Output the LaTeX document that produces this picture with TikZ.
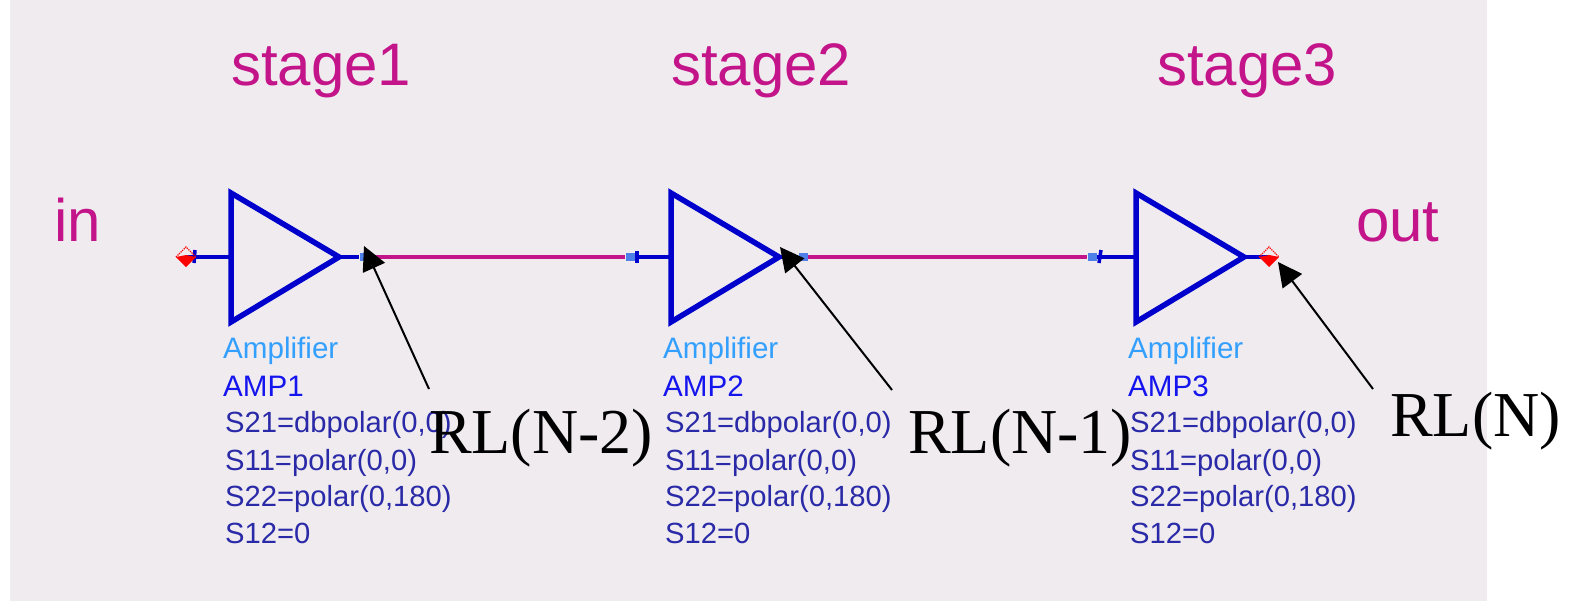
\documentclass[tikz,border=0pt]{standalone}
\usepackage{fontspec}
\setmainfont{Liberation Sans}
\newfontfamily\timesf{Liberation Serif}
\usetikzlibrary{arrows.meta}
\definecolor{panel}{HTML}{EFEBEF}
\definecolor{ampblue}{HTML}{0000CC}
\definecolor{wiremag}{HTML}{C4148A}
\definecolor{pinblue}{HTML}{4F7FE8}
\definecolor{typeblue}{HTML}{33A0FF}
\definecolor{nameblue}{HTML}{1414EE}
\definecolor{parblue}{HTML}{2A2AA8}
\tikzset{
  x=1pt,y=-1pt,
  amptri/.style={draw=ampblue,line width=5.5pt,miter limit=10,line join=miter},
  ampwire/.style={draw=ampblue,line width=4.5pt},
  magwire/.style={draw=wiremag,line width=4.5pt},
  pinbox/.style={fill=pinblue,draw=none,minimum width=9pt,minimum height=8pt,inner sep=0pt},
  stagetxt/.style={text=wiremag,font=\fontsize{60}{60}\selectfont,anchor=base west,inner sep=0pt},
  typetxt/.style={text=typeblue,font=\fontsize{29.6}{30}\selectfont,anchor=base west,inner sep=0pt},
  nametxt/.style={text=nameblue,font=\fontsize{29.6}{30}\selectfont,anchor=base west,inner sep=0pt},
  partxt/.style={text=parblue,font=\fontsize{29.2}{30}\selectfont,anchor=base west,inner sep=0pt},
  rltxt/.style={text=black,font=\timesf\fontsize{64}{64}\selectfont,anchor=base west,inner sep=0pt},
  callout/.style={draw=black,line width=2pt,-{Triangle[length=24pt,width=24pt]},shorten >=0pt},
}
\newcommand{\ampblock}[4]{% #1 id, #2 x offset, #3 name, #4 unused
  \coordinate (a#1top) at (231+#2,193);
  \coordinate (a#1bot) at (231+#2,322);
  \coordinate (a#1in) at (231+#2,257);
  \coordinate (a#1tip) at (339+#2,257);
  \draw[amptri] (a#1top) -- (a#1tip) -- (a#1bot) -- cycle;
  \node[typetxt] (ty#1) at (223+#2,358) {Amplifier};
  \node[nametxt] (na#1) at (223+#2,396) {#3};
  \node[partxt] (sa#1) at (225+#2,432) {S21=dbpolar(0,0)};
  \node[partxt] (sb#1) at (225+#2,470) {S11=polar(0,0)};
  \node[partxt] (sc#1) at (225+#2,506) {S22=polar(0,180)};
  \node[partxt] (sd#1) at (225+#2,543) {S12=0};
}
\begin{document}
\begin{tikzpicture}
\useasboundingbox (0,0) rectangle (1571,602);
\fill[white] (0,0) rectangle (1571,602);
\fill[panel] (10,0) rectangle (1487,601);

\node[stagetxt] (st1) at (231,85) {stage1};
\node[stagetxt] (st2) at (671,85) {stage2};
\node[stagetxt] (st3) at (1157,85) {stage3};
\node[stagetxt] (lin) at (54,241) {in};
\node[stagetxt] (lout) at (1356,241) {out};

% ports and pins
\coordinate (pin) at (186,257);
\coordinate (pout) at (1269,257);
\node[pinbox] (o1) at (364,257) {};
\node[pinbox] (i2) at (630,257) {};
\node[pinbox] (o2) at (803,257) {};
\node[pinbox] (i3) at (1092,257) {};

\draw[magwire] (o1.east) -- (i2.west);
\draw[magwire] (o2.east) -- (i3.west);

\ampblock{1}{0}{AMP1}{}
\ampblock{2}{440}{AMP2}{}
\ampblock{3}{905}{AMP3}{}

\draw[ampwire] (pin) -- (a1in);
\draw[ampwire] (a1tip) -- (o1.west);
\draw[ampwire] (i2.east) -- (a2in);
\draw[ampwire] (a2tip) -- (o2.west);
\draw[ampwire] (i3.east) -- (a3in);
\draw[ampwire] (a3tip) -- (pout);

% port ticks
\draw[draw=ampblue,line width=3.5pt] (195,250) -- (194,263);
\draw[draw=ampblue,line width=3.5pt] (637,251) -- (637,263);
\draw[draw=ampblue,line width=3.5pt] (1101,250) -- (1099,263);

% port diamonds
\foreach \p in {pin,pout}{
  \fill[red] ([xshift=-10pt]\p) -- ([yshift=-10pt]\p) -- ([xshift=10pt]\p) -- ([yshift=2pt]\p) -- cycle;
  \draw[red,line width=1.2pt,densely dotted] ([xshift=-10pt]\p) -- ([yshift=10pt]\p) -- ([xshift=10pt]\p);
}

\node[rltxt] (rl1) at (429,453) {RL(N-2)};
\node[rltxt] (rl2) at (908,453) {RL(N-1)};
\node[rltxt] (rl3) at (1390,436) {RL(N)};

\coordinate (c1) at (429,389);
\coordinate (c2) at (892,390);
\coordinate (c3) at (1373,389);
\coordinate (t1) at (364,246);
\coordinate (t2) at (780,247);
\coordinate (t3) at (1278,262);
\draw[callout] (c1) -- (t1);
\draw[callout] (c2) -- (t2);
\draw[callout] (c3) -- (t3);
\end{tikzpicture}
\end{document}
